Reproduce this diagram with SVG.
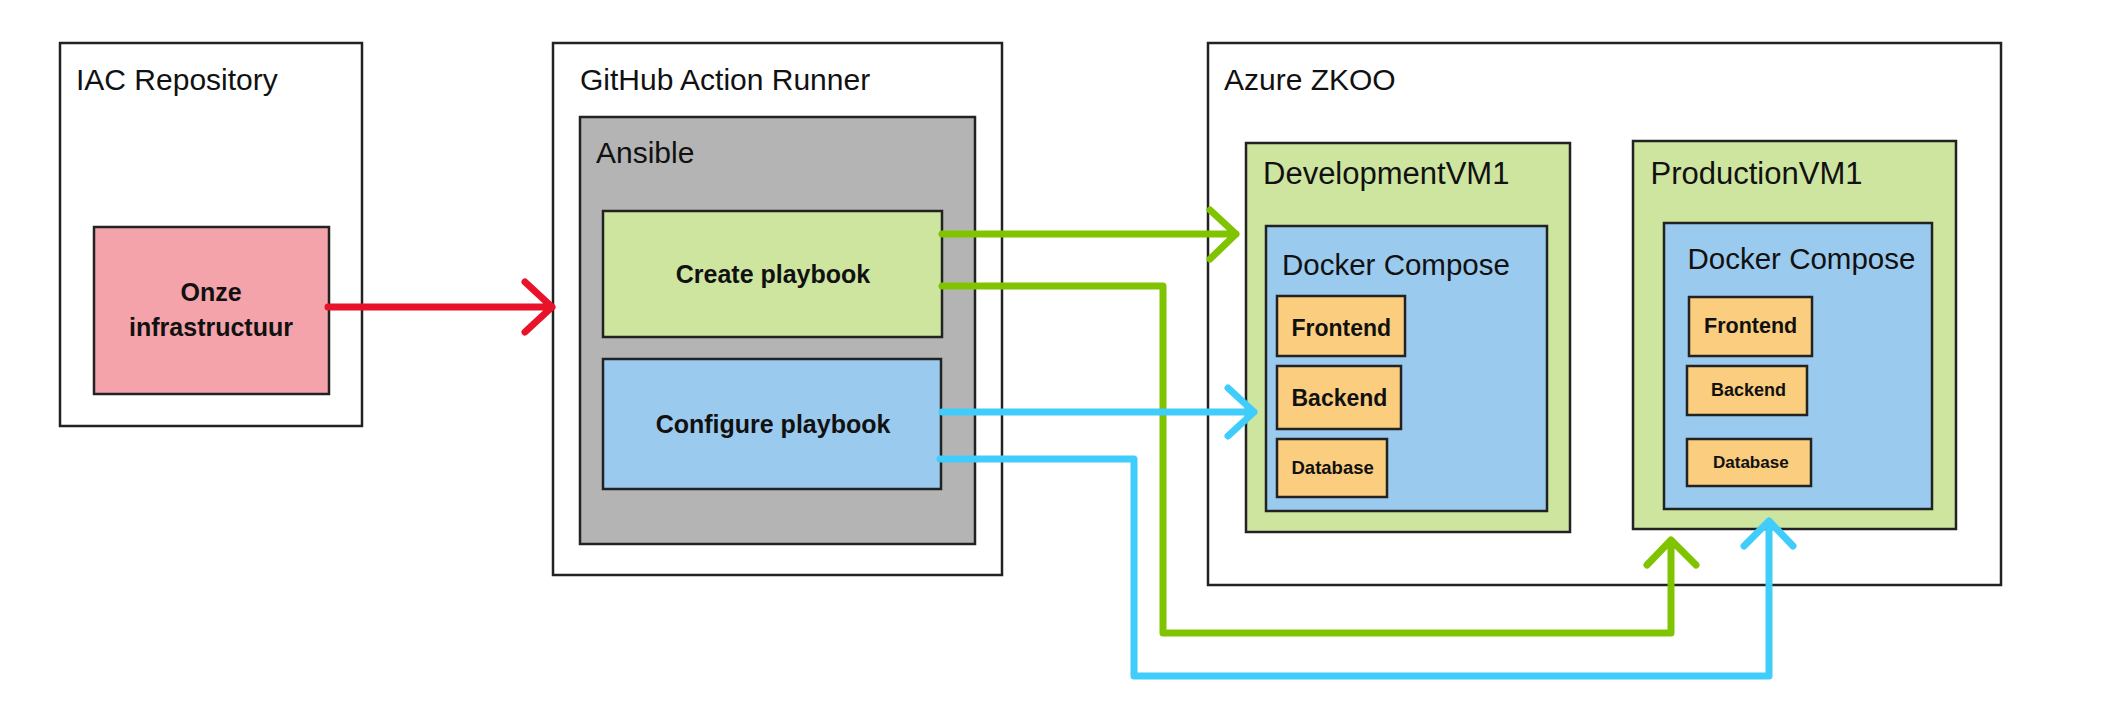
<svg xmlns="http://www.w3.org/2000/svg" width="2102" height="716" viewBox="0 0 2102 716">
<style>
.box{stroke:#222;stroke-width:2.5}
.white{fill:#fff}
.pink{fill:#F4A3AA}
.gray{fill:#B4B4B4}
.lgreen{fill:#CDE59F}
.lblue{fill:#9ACAEE}
.orange{fill:#FBCD7E}
.t{font-family:"Liberation Sans",Arial,sans-serif;fill:#111}
.title{font-size:30px}
.b{font-weight:bold}
.c{text-anchor:middle}
.con{fill:none;stroke-width:7;stroke-linecap:round;stroke-linejoin:round}
.red{stroke:#E8132B}
.grn{stroke:#80C300}
.blu{stroke:#40CDFC}
</style>
<rect width="2102" height="716" fill="#fff"/>
<g id="iac">
<rect class="box white" x="60" y="43" width="302" height="383"/>
<text class="t title" x="76" y="90">IAC Repository</text>
</g>
<g id="onze">
<rect class="box pink" x="94" y="227" width="235" height="167"/>
<text class="t b c" x="211" y="301" font-size="25">Onze</text>
<text class="t b c" x="211" y="336" font-size="25">infrastructuur</text>
</g>
<g id="runner">
<rect class="box white" x="553" y="43" width="449" height="532"/>
<text class="t title" x="580" y="90">GitHub Action Runner</text>
</g>
<g id="ansible">
<rect class="box gray" x="580" y="117" width="395" height="427"/>
<text class="t title" x="596" y="163">Ansible</text>
</g>
<g id="create">
<rect class="box lgreen" x="603" y="211" width="339" height="126"/>
<text class="t b c" x="773" y="283" font-size="25">Create playbook</text>
</g>
<g id="configure">
<rect class="box lblue" x="603" y="359" width="338" height="130"/>
<text class="t b c" x="773" y="433" font-size="25">Configure playbook</text>
</g>
<g id="azure">
<rect class="box white" x="1208" y="43" width="793" height="542"/>
<text class="t title" x="1224" y="90">Azure ZKOO</text>
</g>
<g id="devvm">
<rect class="box lgreen" x="1246" y="143" width="324" height="389"/>
<text class="t" x="1263" y="184" font-size="31">DevelopmentVM1</text>
</g>
<g id="devdocker">
<rect class="box lblue" x="1266" y="226" width="281" height="285"/>
<text class="t" x="1282" y="275" font-size="29.5">Docker Compose</text>
</g>
<g id="devfrontend">
<rect class="box orange" x="1277" y="296" width="128" height="60"/>
<text class="t b" x="1291.5" y="335.5" font-size="23">Frontend</text>
</g>
<g id="devbackend">
<rect class="box orange" x="1277" y="366" width="124" height="63"/>
<text class="t b" x="1291.5" y="405.5" font-size="23">Backend</text>
</g>
<g id="devdatabase">
<rect class="box orange" x="1277" y="439" width="110" height="58"/>
<text class="t b" x="1291.5" y="474" font-size="18.5">Database</text>
</g>
<g id="prodvm">
<rect class="box lgreen" x="1633" y="141" width="323" height="388"/>
<text class="t" x="1650.5" y="184" font-size="31">ProductionVM1</text>
</g>
<g id="proddocker">
<rect class="box lblue" x="1664" y="223" width="268" height="286"/>
<text class="t" x="1687.5" y="269" font-size="29.5">Docker Compose</text>
</g>
<g id="prodfrontend">
<rect class="box orange" x="1689" y="297" width="123" height="59"/>
<text class="t b" x="1704" y="333" font-size="21.5">Frontend</text>
</g>
<g id="prodbackend">
<rect class="box orange" x="1687" y="366" width="120" height="49"/>
<text class="t b" x="1711" y="396" font-size="18">Backend</text>
</g>
<g id="proddatabase">
<rect class="box orange" x="1687" y="439" width="124" height="47"/>
<text class="t b" x="1713" y="468" font-size="17">Database</text>
</g>
<g id="connectors">
<path class="con red" d="M328,307 H552 M525,282 L552,307 L525,332"/>
<path class="con grn" d="M942,234 H1236 M1210,210 L1236,234 L1210,259"/>
<path class="con grn" d="M942,286 H1163 V633 H1671 V540 M1647,565 L1671,540 L1696,565"/>
<path class="con blu" d="M942,412 H1254 M1228,388 L1254,412 L1228,436"/>
<path class="con blu" d="M940,459 H1134 V676 H1769 V521 M1744,546 L1769,521 L1793,546"/>
</g>
</svg>
